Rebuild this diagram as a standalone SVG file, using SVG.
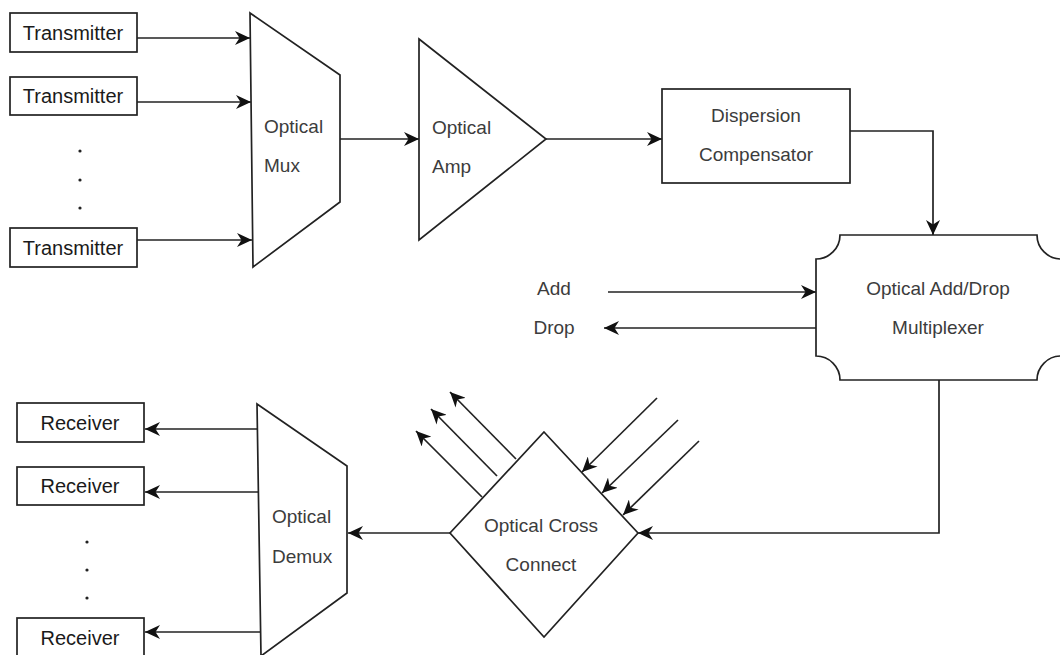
<svg xmlns="http://www.w3.org/2000/svg" width="1060" height="655" viewBox="0 0 1060 655">
<style>
  .shape { fill: #fff; stroke: #222; stroke-width: 1.7; stroke-linejoin: miter; }
  .conn { fill: none; stroke: #222; stroke-width: 1.7; }
  .arrow { marker-end: url(#ah); }
  .box-label { font-family: "Liberation Sans", Arial, sans-serif; font-size: 20px; fill: #1a1a1a; text-anchor: middle; }
  .lbl { font-family: "Liberation Sans", Arial, sans-serif; font-size: 19px; fill: #3c3c3c; }
  .mid { text-anchor: middle; }
  .dot { fill: #222; }
</style>
<defs>
  <marker id="ah" viewBox="0 0 15 14" markerWidth="15" markerHeight="14" refX="15" refY="7" orient="auto" markerUnits="userSpaceOnUse">
    <path d="M0,0 L15,7 L0,14 L4.5,7 Z" fill="#111"/>
  </marker>
</defs>
<rect width="1060" height="655" fill="#fff"/>

<g id="connectors">
  <line class="conn arrow" x1="137" y1="38" x2="250" y2="38"/>
  <line class="conn arrow" x1="137" y1="102" x2="251" y2="102"/>
  <line class="conn arrow" x1="137" y1="240" x2="252" y2="240"/>
  <line class="conn arrow" x1="340" y1="139" x2="419" y2="139"/>
  <line class="conn arrow" x1="546" y1="139" x2="662" y2="139"/>
  <polyline class="conn arrow" points="850,131 933,131 933,235"/>
  <line class="conn arrow" x1="608" y1="292" x2="816" y2="292"/>
  <line class="conn arrow" x1="816" y1="328" x2="604" y2="328"/>
  <polyline class="conn arrow" points="939,380 939,533 638,533"/>
  <line class="conn arrow" x1="450" y1="533" x2="348" y2="533"/>
  <line class="conn arrow" x1="258" y1="429" x2="145" y2="429"/>
  <line class="conn arrow" x1="259" y1="492" x2="145" y2="492"/>
  <line class="conn arrow" x1="260" y1="632" x2="145" y2="632"/>
  <line class="conn arrow" x1="482" y1="497" x2="416" y2="431"/>
  <line class="conn arrow" x1="497" y1="476" x2="431" y2="409"/>
  <line class="conn arrow" x1="516" y1="459" x2="450" y2="392"/>
  <line class="conn arrow" x1="657" y1="398" x2="582" y2="472"/>
  <line class="conn arrow" x1="678" y1="420" x2="602" y2="493"/>
  <line class="conn arrow" x1="699" y1="441" x2="623" y2="515"/>
</g>

<g id="tx1"><rect class="shape" x="10" y="13" width="127" height="39"/><text class="box-label" x="73" y="40">Transmitter</text></g>
<g id="tx2"><rect class="shape" x="10" y="77" width="127" height="38"/><text class="box-label" x="73" y="103">Transmitter</text></g>
<g id="tx3"><rect class="shape" x="10" y="228" width="127" height="39"/><text class="box-label" x="73" y="255">Transmitter</text></g>
<g id="tx-dots"><circle class="dot" cx="80" cy="151" r="1.6"/><circle class="dot" cx="80" cy="180" r="1.6"/><circle class="dot" cx="80" cy="208" r="1.6"/></g>

<g id="mux"><path class="shape" d="M250,13 L340,75 L340,202 L253,267 Z"/>
  <text class="lbl" x="264" y="133">Optical</text><text class="lbl" x="264" y="172">Mux</text></g>

<g id="amp"><path class="shape" d="M419,39 L546,139 L419,240 Z"/>
  <text class="lbl" x="432" y="134">Optical</text><text class="lbl" x="432" y="173">Amp</text></g>

<g id="dispersion"><rect class="shape" x="662" y="89" width="188" height="94"/>
  <text class="lbl mid" x="756" y="122">Dispersion</text><text class="lbl mid" x="756" y="161">Compensator</text></g>

<g id="oadm"><path class="shape" d="M840,235 L1037,235 A24,24 0 0 0 1061,259 L1061,356 A24,24 0 0 0 1037,380 L840,380 A24,24 0 0 0 816,356 L816,259 A24,24 0 0 0 840,235 Z"/>
  <text class="lbl mid" x="938" y="295">Optical Add/Drop</text><text class="lbl mid" x="938" y="334">Multiplexer</text></g>

<g id="add-label"><text class="lbl mid" x="554" y="295">Add</text></g>
<g id="drop-label"><text class="lbl mid" x="554" y="334">Drop</text></g>

<g id="occ"><path class="shape" d="M544,432 L638,533 L544,637 L450,533 Z"/>
  <text class="lbl mid" x="541" y="532">Optical Cross</text><text class="lbl mid" x="541" y="571">Connect</text></g>

<g id="demux"><path class="shape" d="M257,404 L347,466 L347,593 L261,656 Z"/>
  <text class="lbl" x="272" y="523">Optical</text><text class="lbl" x="272" y="563">Demux</text></g>

<g id="rx1"><rect class="shape" x="17" y="403" width="127" height="39"/><text class="box-label" x="80" y="430">Receiver</text></g>
<g id="rx2"><rect class="shape" x="17" y="467" width="127" height="38"/><text class="box-label" x="80" y="493">Receiver</text></g>
<g id="rx3"><rect class="shape" x="17" y="618" width="127" height="39"/><text class="box-label" x="80" y="645">Receiver</text></g>
<g id="rx-dots"><circle class="dot" cx="87" cy="542" r="1.6"/><circle class="dot" cx="87" cy="570" r="1.6"/><circle class="dot" cx="87" cy="598" r="1.6"/></g>
</svg>
